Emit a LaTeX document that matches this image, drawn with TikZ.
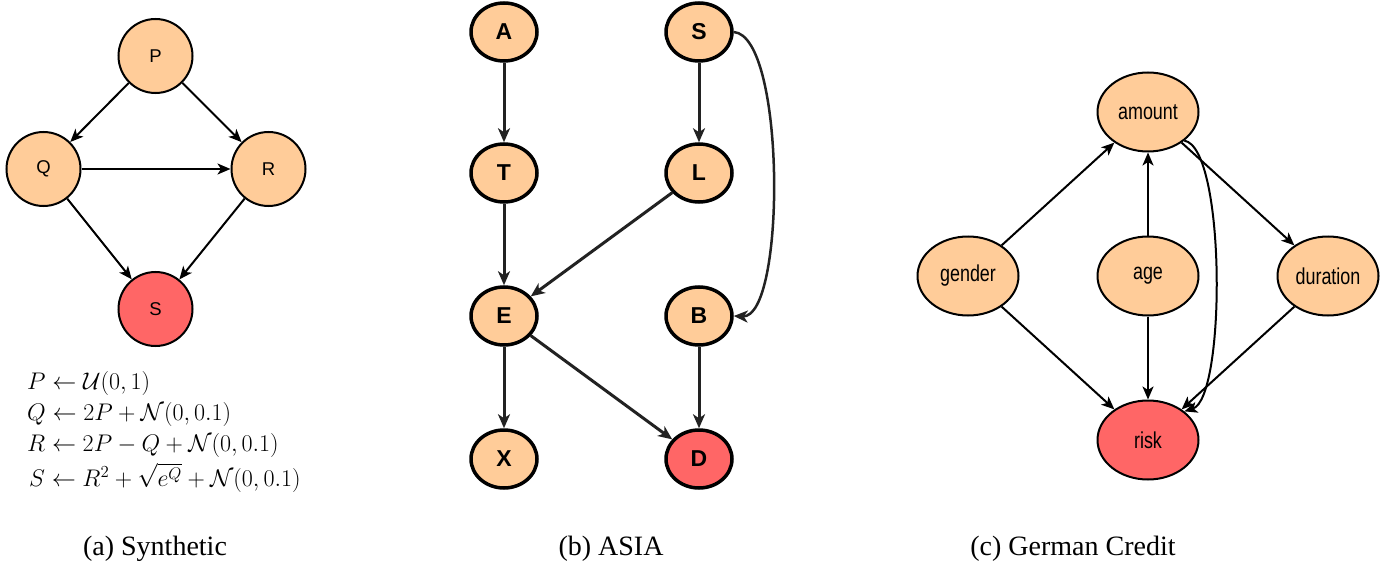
\RequirePackage{fix-cm}
\documentclass[tikz,border=0pt]{standalone}
\usepackage{fontspec}
\setmainfont{Liberation Serif}
\newfontfamily\labelfont{Liberation Sans}
\newfontfamily\narrowfont[FakeStretch=0.78]{Liberation Sans}
\usetikzlibrary{shapes.geometric,arrows.meta}
\definecolor{nodeorange}{HTML}{FFCC99}
\definecolor{nodered}{HTML}{FF6666}
\definecolor{asialine}{HTML}{222222}
\tikzset{
  synnode/.style={circle,draw=black,line width=2pt,fill=nodeorange,minimum size=74pt,inner sep=0pt,font=\labelfont\fontsize{18.5}{22}\selectfont},
  asianode/.style={ellipse,draw=black,line width=3.5pt,fill=nodeorange,minimum width=66pt,minimum height=58pt,inner sep=0pt,font=\labelfont\bfseries\fontsize{23}{26}\selectfont},
  gernode/.style={ellipse,draw=black,line width=2pt,fill=nodeorange,minimum width=101pt,minimum height=79pt,inner sep=0pt,font=\narrowfont\fontsize{23}{26}\selectfont},
  synarrow/.style={line width=2pt,-{Stealth[length=13pt,width=11pt,inset=3.5pt]}},
  asiaarrow/.style={draw=asialine,line width=3pt,-{Stealth[length=14pt,width=12pt,inset=4pt]}},
  gerarrow/.style={line width=2pt,-{Stealth[length=13pt,width=11pt,inset=3.5pt]}},
  caption/.style={font=\fontsize{28}{32}\selectfont,anchor=base},
  eqn/.style={anchor=base west,inner sep=0pt,font=\fontsize{18.5}{22}\selectfont}
}
\newcommand{\eqscale}[1]{\scalebox{1.3}{$#1$}}
\begin{document}
\begin{tikzpicture}[x=1pt,y=-1pt]
\useasboundingbox (0,0) rectangle (1398,567);
% (a) Synthetic
\node[synnode] (P) at (155.5,56) {P};
\node[synnode] (Q) at (43.5,169) {Q};
\node[synnode] (R) at (268.5,169) {R};
\node[synnode,fill=nodered] (S) at (155.5,309) {S};
\draw[synarrow] (P) -- (Q);
\draw[synarrow] (P) -- (R);
\draw[synarrow] (Q) -- (R);
\draw[synarrow] (Q) -- (S);
\draw[synarrow] (R) -- (S);
\node[eqn] (eq1) at (27,389) {\eqscale{P \leftarrow \mathcal{U}(0,1)}};
\node[eqn] (eq2) at (27,420) {\eqscale{Q \leftarrow 2P + \mathcal{N}(0,0.1)}};
\node[eqn] (eq3) at (27,451) {\eqscale{R \leftarrow 2P - Q + \mathcal{N}(0,0.1)}};
\node[eqn] (eq4) at (29,486) {\eqscale{S \leftarrow R^2 + \sqrt{e^Q} + \mathcal{N}(0,0.1)}};
% (b) ASIA
\node[asianode] (A) at (504,32) {A};
\node[asianode] (AS) at (699,32) {S};
\node[asianode] (T) at (504,173) {T};
\node[asianode] (L) at (699,173) {L};
\node[asianode] (E) at (504,316) {E};
\node[asianode] (B) at (699,316) {B};
\node[asianode] (X) at (504,459) {X};
\node[asianode,fill=nodered] (D) at (699,459) {D};
\draw[asiaarrow] (A) -- (T);
\draw[asiaarrow] (AS) -- (L);
\draw[asiaarrow] (T) -- (E);
\draw[asiaarrow] (L) -- (E);
\draw[asiaarrow] (E) -- (X);
\draw[asiaarrow] (E) -- (D);
\draw[asiaarrow] (B) -- (D);
\draw[asiaarrow,line width=2.5pt] (AS.east) .. controls (786,36) and (786,318) .. (B.east);
% (c) German Credit
\node[gernode] (amount) at (1148,112) {amount};
\node[gernode] (gender) at (968,276) {gender};
\node[gernode] (age) at (1148,276) {age};
\node[gernode] (duration) at (1328,276) {duration};
\node[gernode,fill=nodered] (risk) at (1148,440) {risk};
\draw[gerarrow] (gender) -- (amount);
\draw[gerarrow] (age) -- (amount);
\draw[gerarrow] (amount) -- (duration);
\draw[gerarrow] (gender) -- (risk);
\draw[gerarrow] (age) -- (risk);
\draw[gerarrow] (duration) -- (risk);
\draw[gerarrow] (amount.south east) .. controls (1226,148) and (1226,398) .. (risk.north east);
% captions
\node[caption] (capa) at (155,555) {(a) Synthetic};
\node[caption] (capb) at (611,555) {(b) ASIA};
\node[caption] (capc) at (1073,555) {(c) German Credit};
\end{tikzpicture}
\end{document}
